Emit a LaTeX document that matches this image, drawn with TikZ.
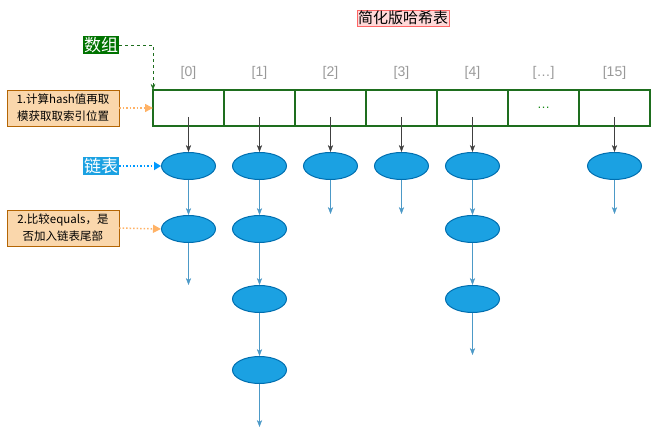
\documentclass[tikz,border=0pt]{standalone}
\usepackage{fontspec}
\setmainfont{Liberation Sans}
\newfontfamily\cjk{Noto Sans CJK SC}
\usetikzlibrary{arrows.meta,shapes.geometric}
\definecolor{garr}{HTML}{1E6E1E}
\definecolor{ell}{HTML}{1BA1E2}
\definecolor{ellb}{HTML}{006EAF}
\definecolor{org}{HTML}{FAD7AC}
\definecolor{orgb}{HTML}{B46504}
\begin{document}
\begin{tikzpicture}[x=1pt,y=-1pt,
 cell/.style={draw=garr,line width=1.5pt,minimum width=71pt,minimum height=36pt,inner sep=0,outer sep=0},
 idx/.style={text=gray!80,font=\fontsize{14}{16}\selectfont},
 el/.style={ellipse,draw=ellb,line width=1pt,fill=ell,minimum width=54pt,minimum height=27pt,inner sep=0},
 blk/.style={draw=black!75,-{Stealth[length=7pt]}},
 bl/.style={draw=ellb!70,-{Stealth[length=7pt]}},
 note/.style={draw=orgb,fill=org,font=\cjk\fontsize{11.5}{17}\selectfont,align=center,minimum width=112pt,minimum height=36pt,inner sep=1pt},
 dot/.style={draw=orange!60,dotted,line width=1.5pt,-{Triangle[length=8pt,width=8pt]}}
]
\useasboundingbox (0,0) rectangle (664,443);
\node[draw=red!60,fill=red!15,font=\cjk\fontsize{15}{17}\selectfont,inner sep=1pt] (title) at (403,18) {简化版哈希表};
\foreach \i/\l [count=\k from 0] in {0/{[0]},1/{[1]},2/{[2]},3/{[3]},4/{[4]},5/{[\ldots]},6/{[15]}} {
  \node[cell] (c\k) at (188.5+71*\i,108) {};
  \node[idx] (i\k) at (188.5+71*\i,73) {\l};
}
\node[text=garr!80!green,font=\fontsize{13}{15}\selectfont] (dd) at (c5) {\ldots};
\node[fill=green!45!black,text=white,font=\cjk\fontsize{17}{19}\selectfont,inner sep=1pt] (arr) at (101,45) {数组};
\coordinate (ak) at (153,45);
\draw[garr,dashed,-{Stealth[length=6pt]}] (arr.east) -- (ak) -- (c0.north west);
\node[fill=ell,text=white,font=\cjk\fontsize{17}{19}\selectfont,inner sep=1pt] (lst) at (101,166) {链表};
\node[note] (n1) at (63,108) {1.计算hash值再取\\模获取取索引位置};
\node[note] (n2) at (63,228) {2.比较equals，是\\否加入链表尾部};
\foreach \k/\n/\e in {0/2/285,1/4/427,2/1/214,3/1/214,4/3/355,6/1/214} {
  \pgfmathsetmacro\xx{188.5+71*\k}
  \foreach \r/\yy in {1/166,2/229,3/299,4/370} {
    \ifnum\r>\n\else \node[el] (e\k-\r) at (\xx,\yy) {}; \fi
  }
  \coordinate (s\k) at (\xx,117);
  \draw[blk] (s\k) -- (e\k-1);
  \coordinate (t\k) at (\xx,\e);
  \draw[bl] (e\k-\n) -- (t\k);
}
\draw[bl] (e0-1) -- (e0-2);
\draw[bl] (e1-1) -- (e1-2); \draw[bl] (e1-2) -- (e1-3); \draw[bl] (e1-3) -- (e1-4);
\draw[bl] (e4-1) -- (e4-2); \draw[bl] (e4-2) -- (e4-3);
\draw[dot] (n1.east) -- (c0.west);
\draw[dotted,line width=1.5pt,draw=blue!40!cyan,-{Triangle[length=7pt]}] (lst.east) -- (e0-1.west);
\draw[dot] (n2.east) -- (e0-2.west);
\end{tikzpicture}
\end{document}
